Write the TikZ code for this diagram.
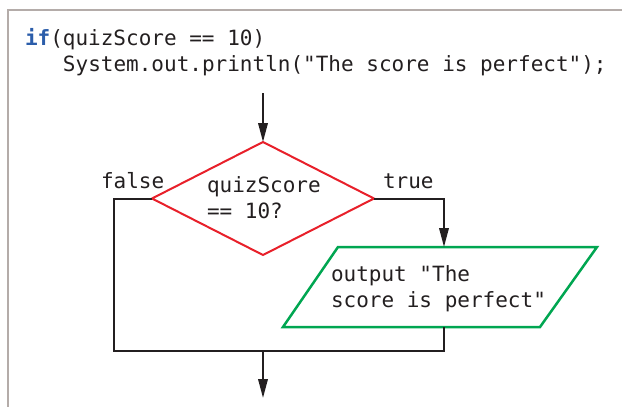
\documentclass[tikz,border=0pt]{standalone}
\usepackage{fontspec}
\setmonofont{DejaVu Sans Mono}
\usetikzlibrary{arrows.meta,shapes.geometric}
\definecolor{ink}{HTML}{231F20}
\definecolor{decred}{HTML}{E8202A}
\definecolor{iogreen}{HTML}{00A651}
\definecolor{kwblue}{HTML}{2B5DAA}
\definecolor{framegray}{HTML}{B4ACA9}
\begin{document}
\begin{tikzpicture}[x=1pt,y=-1pt,
  every node/.style={font=\ttfamily\fontsize{21}{26}\selectfont, text=ink, inner sep=0pt, outer sep=0pt},
  txt/.style={anchor=base west},
  flow/.style={draw=ink, line width=2pt},
  arr/.style={flow, -{Triangle[length=19pt,width=9.5pt]}},
  decbox/.style={diamond, draw=decred, line width=2pt, minimum width=222pt, minimum height=113pt},
  iobox/.style={draw=iogreen, line width=2.5pt, line join=miter},
  frameline/.style={draw=framegray, line width=2pt}]
\useasboundingbox (0,0) rectangle (622,407);
% frame
\draw[frameline] (8,408) -- (8,10) -- (623,10);
% code
\node[txt] (code1) at (25,45) {\textcolor{kwblue}{\textbf{if}}(quizScore == 10)};
\node[txt] (code2) at (63,71.5) {System.out.println("The score is perfect");};
% decision
\node[decbox] (dec) at (263,198.5) {};
\node[txt] (q1) at (207,192) {quizScore};
\node[txt] (q2) at (207,218) {== 10?};
\node[txt] (lf) at (101,188) {false};
\node[txt] (lt) at (383,188) {true};
% output parallelogram
\coordinate (pa) at (338,247);
\coordinate (pb) at (597,247);
\coordinate (pc) at (540,327);
\coordinate (pd) at (283,327);
\draw[iobox] (pa) -- (pb) -- (pc) -- (pd) -- cycle;
\node[txt] (o1) at (331,281) {output "The};
\node[txt] (o2) at (331,307) {score is perfect"};
% connectors
\coordinate (start) at (263,93);
\coordinate (ptop) at (444,247);
\coordinate (pbot) at (444,327);
\coordinate (jl) at (114,351);
\coordinate (jm) at (263,351);
\coordinate (outend) at (263,398);
\draw[arr] (start) -- (dec.north);
\draw[arr] (dec.east) -| (ptop);
\draw[flow] (dec.west) -| (jl) -- (pbot |- jl) -- (pbot);
\draw[arr] (jm) -- (outend);
\end{tikzpicture}
\end{document}
